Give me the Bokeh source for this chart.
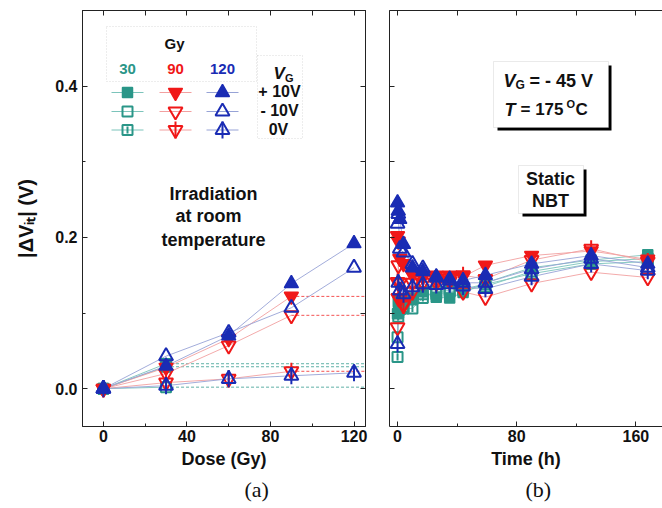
import numpy as np
from bokeh.plotting import figure
from bokeh.models import (LinearAxis, SingleIntervalTicker, Label, BoxAnnotation,
                          Range1d, PrintfTickFormatter, Title)
from bokeh.layouts import row
from bokeh.embed import file_html
from bokeh.resources import INLINE

# ---------------- data: panel (a)  |dVit| vs dose ----------------
dose_gy = [0, 30, 60, 90, 120]
a_30_p10 = [0.000, 0.033]
a_30_m10 = [0.000, 0.029]
a_30_0v = [0.000, 0.002]
a_90_p10 = [0.000, 0.028, 0.066, 0.122]
a_90_m10 = [0.000, 0.020, 0.057, 0.097]
a_90_0v = [0.000, 0.008, 0.013, 0.023]
a_120_p10 = [0.000, 0.030, 0.070, 0.139, 0.192]
a_120_m10 = [0.000, 0.043, 0.074, 0.107, 0.160]
a_120_0v = [0.000, 0.004, 0.013, 0.017, 0.021]

# ---------------- data: panel (b)  |dVit| vs NBT time ----------------
time_h = [0, 0.5, 1.5, 4, 10, 17, 26, 35, 44, 59, 90, 130, 168]
b_30_p10 = [0.099, 0.115, 0.112, 0.115, 0.120, 0.128, 0.121, 0.120, 0.127, 0.140, 0.160, 0.170, 0.177]
b_30_m10 = [0.068, 0.100, 0.105, 0.108, 0.118, 0.125, 0.125, 0.128, 0.130, 0.135, 0.155, 0.168, 0.172]
b_30_0v = [0.042, 0.095, 0.105, 0.106, 0.106, 0.120, 0.128, 0.130, 0.132, 0.138, 0.152, 0.165, 0.168]
b_90_p10 = [0.202, 0.195, 0.172, 0.165, 0.150, 0.150, 0.150, 0.150, 0.148, 0.163, 0.176, 0.182, 0.171]
b_90_m10 = [0.081, 0.163, 0.140, 0.112, 0.140, 0.148, 0.145, 0.146, 0.128, 0.121, 0.139, 0.154, 0.147]
b_90_0v = [0.141, 0.120, 0.118, 0.110, 0.128, 0.140, 0.140, 0.142, 0.150, 0.145, 0.170, 0.185, 0.168]
b_120_p10 = [0.246, 0.235, 0.224, 0.191, 0.160, 0.155, 0.148, 0.145, 0.143, 0.150, 0.165, 0.176, 0.165]
b_120_m10 = [0.218, 0.231, 0.185, 0.180, 0.165, 0.159, 0.147, 0.143, 0.140, 0.140, 0.158, 0.172, 0.160]
b_120_0v = [0.059, 0.140, 0.130, 0.125, 0.134, 0.138, 0.137, 0.138, 0.135, 0.132, 0.148, 0.165, 0.156]

dose_labels = ["30", "90", "120"]
bias_labels = ["+ 10V", "- 10V", "0V"]
bias_keys = ["p", "m", "0"]

# ---------------- style / layout ----------------
COL = {"30": "#2a9688", "90": "#f01818", "120": "#1a2cb4"}
LCOL = {"30": "#7cc4bb", "90": "#f2a0a0", "120": "#97a3d6"}
MK = {"30": "square", "90": "inverted_triangle", "120": "triangle"}
MSZ = {"30": 10, "90": 14, "120": 14}
FONT = "Liberation Sans"

FT, FB = 10, 426            # frame top / bottom (canvas px)
FL_A, FW_A = 82, 283        # left panel frame left / width
FL_B, FW_B = 389, 273       # right panel frame left / width
XA = (-10, 125.5)
XB = (-5.4, 177.9)
YR = (-0.05, 0.5)


def ax_(px):
    return XA[0] + (px - FL_A) * (XA[1] - XA[0]) / FW_A


def bx_(px):
    return XB[0] + (px - FL_B) * (XB[1] - XB[0]) / FW_B


def yy_(py):
    return YR[1] - (py - FT) * (YR[1] - YR[0]) / (FB - FT)


def make_fig(xr, fw, bl, br):
    p = figure(frame_width=fw, frame_height=FB - FT, x_range=Range1d(*xr), y_range=Range1d(*YR),
               output_backend="svg", toolbar_location=None, min_border_left=bl,
               min_border_right=br, min_border_top=FT, min_border_bottom=508 - FB)
    p.xgrid.visible = False
    p.ygrid.visible = False
    p.background_fill_color = "white"
    p.border_fill_color = "white"
    return p


def style_axis(a, labels=True):
    a.axis_line_color = "#222222"
    a.axis_line_width = 1
    a.major_tick_in = 5
    a.major_tick_out = 0
    a.minor_tick_in = 3
    a.minor_tick_out = 0
    a.major_tick_line_color = "#222222"
    a.minor_tick_line_color = "#222222"
    a.major_label_text_font = FONT
    a.major_label_text_font_style = "bold"
    a.axis_label_text_font = FONT
    a.axis_label_text_font_style = "bold"
    a.axis_label_text_font_size = "18px"
    a.axis_label_text_color = "#111111"
    if labels:
        a.major_label_text_color = "#111111"
        a.major_label_text_font_size = "16px"
        a.major_label_standoff = 3
    else:
        a.major_label_text_color = None
        a.major_label_text_font_size = "1px"
        a.major_label_standoff = 0


def lab(p, x, y, text, size="18px", style="bold", align="center", baseline="middle",
        color="#111111", angle=0.0, font=FONT):
    p.add_layout(Label(x=x, y=y, text=text, text_font=font, text_font_size=size,
                       text_font_style=style, text_align=align, text_baseline=baseline,
                       text_color=color, angle=angle))


def draw_markers(p, xs, ys, dose, bias):
    c, m, s = COL[dose], MK[dose], MSZ[dose]
    if bias == "p":
        p.scatter(xs, ys, marker=m, size=s, fill_color=c, line_color=c, line_width=1.5)
    else:
        p.scatter(xs, ys, marker=m, size=s, fill_color=None, line_color=c, line_width=2)
        if bias == "0":
            p.scatter(xs, ys, marker="dash", angle=np.pi / 2, size=(7 if dose == "30" else 17),
                      line_color=c, line_width=2)


# ================= panel (a) =================
pa = make_fig(XA, FW_A, FL_A, FL_B - FL_A - FW_A - 12)
pa.outline_line_color = "#222222"
pa.xaxis.ticker = SingleIntervalTicker(interval=40, num_minor_ticks=2)
pa.yaxis.ticker = SingleIntervalTicker(interval=0.2, num_minor_ticks=2)
pa.yaxis.formatter = PrintfTickFormatter(format="%.1f")
pa.xaxis.axis_label = "Dose (Gy)"
pa.yaxis.axis_label = "|\u0394V\u1d62\u209c| (V)"
style_axis(pa.xaxis[0])
style_axis(pa.yaxis[0])
pa.yaxis.axis_label_text_font_size = "20px"
pa.yaxis.major_label_standoff = 5
pa.yaxis.axis_label_standoff = 15
pa.xaxis.axis_label_standoff = 4
top_a = LinearAxis(ticker=SingleIntervalTicker(interval=20, num_minor_ticks=0))
style_axis(top_a, labels=False)
pa.add_layout(top_a, "above")
right_a = LinearAxis(ticker=SingleIntervalTicker(interval=0.1, num_minor_ticks=0))
style_axis(right_a, labels=False)
pa.add_layout(right_a, "right")
pa.add_layout(Title(text="(a)", align="left", offset=162, standoff=6,
                    text_font="Liberation Serif", text_font_size="22px",
                    text_font_style="normal", text_color="#111111"), "below")

series_a = [
    ("30", "p", a_30_p10), ("30", "m", a_30_m10), ("30", "0", a_30_0v),
    ("90", "p", a_90_p10), ("90", "m", a_90_m10), ("90", "0", a_90_0v),
    ("120", "p", a_120_p10), ("120", "m", a_120_m10), ("120", "0", a_120_0v),
]
for dose, bias, ys in series_a:
    xs = dose_gy[:len(ys)]
    pa.line(xs, ys, line_color=LCOL[dose], line_width=0.9)
    if dose != "120":
        pa.segment(x0=[xs[-1]], y0=[ys[-1]], x1=[XA[1]], y1=[ys[-1]],
                   line_color=COL[dose], line_alpha=0.75, line_width=1, line_dash="3 2")
for dose, bias, ys in series_a:
    draw_markers(pa, dose_gy[:len(ys)], ys, dose, bias)

# legend (custom grid)
leg_cols = [127, 175, 222]
leg_rows = [92, 111, 129.5]
pa.add_layout(BoxAnnotation(left=ax_(106), right=ax_(256), top=yy_(26), bottom=yy_(81),
                            fill_color=None, line_color="#888888", line_dash="1 2", line_width=1))
pa.add_layout(BoxAnnotation(left=ax_(257), right=ax_(302), top=yy_(55), bottom=yy_(138),
                            fill_color=None, line_color="#888888", line_dash="1 2", line_width=1))
lab(pa, ax_(174), yy_(43), "Gy", size="15px")
for cx, d in zip(leg_cols, dose_labels):
    lab(pa, ax_(cx), yy_(68), d, size="15px", color=COL[d])
    for ry, bk in zip(leg_rows, bias_keys):
        pa.segment(x0=[ax_(cx - 16)], y0=[yy_(ry)], x1=[ax_(cx + 16)], y1=[yy_(ry)],
                   line_color=LCOL[d], line_width=1)
        draw_markers(pa, [ax_(cx)], [yy_(ry)], d, bk)
lab(pa, ax_(273), yy_(73), "V", size="17px", style="bold italic", align="left")
lab(pa, ax_(284.5), yy_(77), "G", size="11px", align="left")
for ry, bl in zip(leg_rows, bias_labels):
    lab(pa, ax_(279 if bl != "0V" else 278), yy_(ry - 1), bl, size="16px")

lab(pa, ax_(213), yy_(193), "Irradiation")
lab(pa, ax_(208), yy_(215), "at room")
lab(pa, ax_(213), yy_(239), "temperature")

# ================= panel (b) =================
pb = make_fig(XB, FW_B, 12, 0)
pb.outline_line_color = None
pb.xaxis.ticker = SingleIntervalTicker(interval=80, num_minor_ticks=2)
pb.yaxis.ticker = SingleIntervalTicker(interval=0.1, num_minor_ticks=0)
pb.xaxis.axis_label = "Time (h)"
style_axis(pb.xaxis[0])
style_axis(pb.yaxis[0], labels=False)
pb.xaxis.axis_label_standoff = 4
top_b = LinearAxis(ticker=SingleIntervalTicker(interval=40, num_minor_ticks=0))
style_axis(top_b, labels=False)
pb.add_layout(top_b, "above")
pb.add_layout(Title(text="(b)", align="left", offset=136, standoff=6,
                    text_font="Liberation Serif", text_font_size="22px",
                    text_font_style="normal", text_color="#111111"), "below")

series_b = [
    ("30", "p", b_30_p10), ("30", "m", b_30_m10), ("30", "0", b_30_0v),
    ("90", "p", b_90_p10), ("90", "m", b_90_m10), ("90", "0", b_90_0v),
    ("120", "p", b_120_p10), ("120", "m", b_120_m10), ("120", "0", b_120_0v),
]
for dose, bias, ys in series_b:
    pb.line(time_h, ys, line_color=LCOL[dose], line_width=0.9)
for dose, bias, ys in series_b:
    draw_markers(pb, time_h, ys, dose, bias)

# condition box with shadow
pb.add_layout(BoxAnnotation(left=bx_(497), right=bx_(611), top=yy_(65), bottom=yy_(130),
                            fill_color="black", fill_alpha=1, line_color=None))
pb.add_layout(BoxAnnotation(left=bx_(493), right=bx_(608), top=yy_(61), bottom=yy_(127),
                            fill_color="white", fill_alpha=1, line_color="#bbbbbb", line_width=1))
lab(pb, bx_(503), yy_(80), "V", style="bold italic", align="left")
lab(pb, bx_(515), yy_(84), "G", size="12px", align="left")
lab(pb, bx_(529), yy_(80), "= - 45 V", align="left")
lab(pb, bx_(504), yy_(109), "T", style="bold italic", align="left")
lab(pb, bx_(520), yy_(109), "= 175", size="17px", align="left")
lab(pb, bx_(566), yy_(103), "O", size="11px", align="left")
lab(pb, bx_(575), yy_(109), "C", size="17px", align="left")

pb.add_layout(BoxAnnotation(left=bx_(522), right=bx_(586), top=yy_(169), bottom=yy_(216),
                            fill_color="black", fill_alpha=1, line_color=None))
pb.add_layout(BoxAnnotation(left=bx_(518), right=bx_(583), top=yy_(165), bottom=yy_(213),
                            fill_color="white", fill_alpha=1, line_color="#bbbbbb", line_width=1))
lab(pb, bx_(550), yy_(178), "Static")
lab(pb, bx_(550), yy_(200), "NBT")

layout = row(pa, pb, spacing=0)
open("out.html", "w").write(file_html(layout, INLINE))
